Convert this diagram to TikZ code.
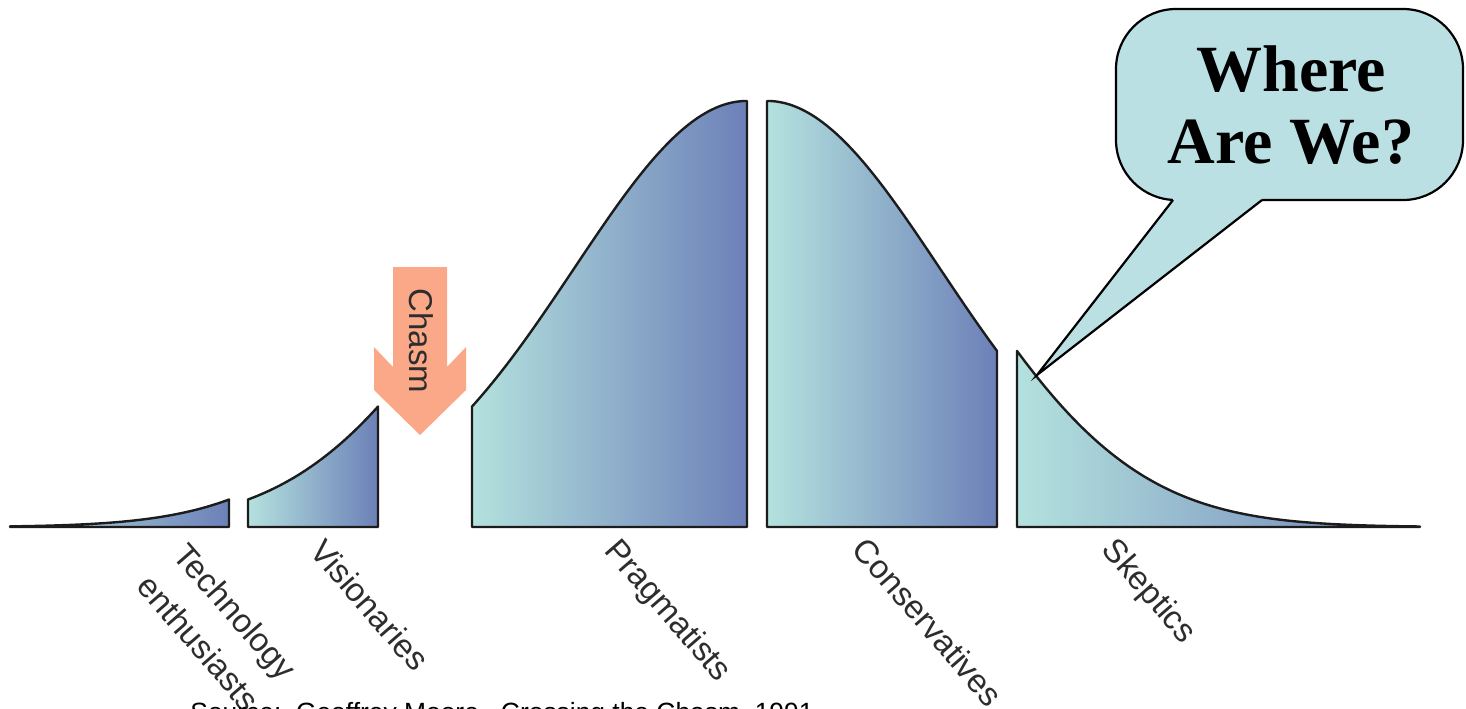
\documentclass[tikz,border=0pt]{standalone}
\usepackage{fontspec}
\setmainfont{Liberation Serif}
\newfontfamily\labelfont{Liberation Sans}
\definecolor{curveteal}{RGB}{180,226,222}
\definecolor{curveblue}{RGB}{108,128,184}
\definecolor{outlinecol}{RGB}{28,28,28}
\definecolor{chasmcol}{RGB}{250,168,136}
\definecolor{calloutcol}{RGB}{187,224,227}
\definecolor{labelgray}{RGB}{45,45,45}
\begin{document}
\begin{tikzpicture}[x=0.5pt,y=-0.5pt,
  declare function={g(\t)=527-426*exp(-0.5*(\t/173)^2);},
  piece/.style={draw=outlinecol, line width=1.2pt, line join=round,
                left color=curveteal, right color=curveblue},
  seglabel/.style={font=\labelfont\fontsize{16.5}{24}\selectfont, text=labelgray,
                   rotate=-49, inner sep=0pt, align=center},
  bubble/.style={draw=black, line width=1.1pt, fill=calloutcol, line join=round},
]
\useasboundingbox (0,0) rectangle (1466,708);
\fill[white] (0,0) rectangle (1466,708);

% curve segments
\draw[piece] (10,527) -- plot[domain=10:229,samples=60] (\x,{g(\x-634)}) -- (229,527) -- cycle;
\draw[piece] (248,527) -- plot[domain=248:378,samples=50] (\x,{g(\x-653)}) -- (378,527) -- cycle;
\draw[piece] (472,527) -- plot[domain=472:747,samples=80] (\x,{g(\x-747)}) -- (747,527) -- cycle;
\draw[piece] (767,527) -- plot[domain=767:997,samples=80] (\x,{g(\x-767)}) -- (997,527) -- cycle;
\draw[piece] (1017,527) -- plot[domain=1017:1420,samples=100] (\x,{g(\x-787)}) -- (1420,527) -- cycle;

% chasm arrow
\fill[chasmcol] (393,267) -- (447,267) -- (447,367) -- (466,347) -- (466,390)
   -- (420,435) -- (374,390) -- (374,347) -- (393,367) -- cycle;
\node[font=\labelfont\fontsize{16.5}{20}\selectfont, text=labelgray, rotate=-90, inner sep=0pt]
   (chasm) at (421,341) {Chasm};

% labels
\node[seglabel] (tech) at (217,627) {Technology\\enthusiasts};
\node[seglabel] (vision) at (370,605) {Visionaries};
\node[seglabel] (prag) at (667,612) {Pragmatists};
\node[seglabel] (cons) at (928,622) {Conservatives};
\node[seglabel] (skep) at (1148,592) {Skeptics};

% speech bubble
\draw[bubble, rounded corners=30] (1116,9) rectangle (1463,200);
\coordinate (tip) at (1037,375);
\coordinate (baseL) at (1173,200);
\coordinate (baseR) at (1262,200);
\fill[calloutcol] (1173,195) -- (1262,195) -- (baseR) -- (tip) -- (baseL) -- cycle;
\draw[black, line width=1.1pt, line join=miter] (baseL) -- (tip) -- (baseR);
\node[font=\bfseries\fontsize{33}{36}\selectfont, align=center, inner sep=0pt]
   (where) at (1291,105) {Where\\Are We?};

% source (cut off by the page edge)
\node[font=\labelfont\fontsize{13.2}{16}\selectfont, anchor=base west, inner sep=0pt]
   (source) at (190,721) {Source:\ \ Geoffrey Moore,\ \ Crossing the Chasm, 1991};
\end{tikzpicture}
\end{document}
